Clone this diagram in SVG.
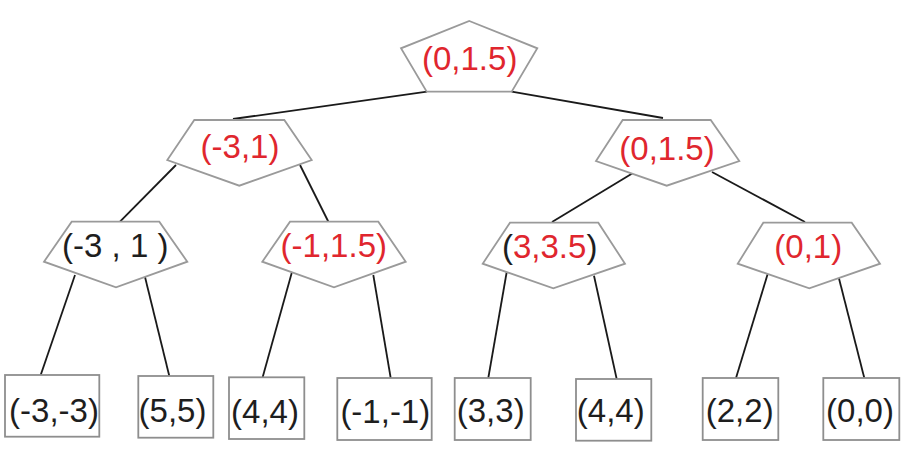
<svg xmlns="http://www.w3.org/2000/svg" width="912" height="454" viewBox="0 0 912 454">
<style>
.pent{fill:#fff;stroke:#9a9a9a;stroke-width:1.8}
.box{fill:#fff;stroke:#8e8e8e;stroke-width:1.8}
.edge{stroke:#1a1a1a;stroke-width:1.8;fill:none}
text{font-family:"Liberation Sans",Arial,sans-serif;font-size:33px;text-anchor:middle}
.r{fill:#e0262e}
.k{fill:#1e1e1e}
</style>
<rect width="912" height="454" fill="#fff"/>
<g id="connectors">
<line class="edge" x1="427" y1="91.7" x2="233" y2="119"/>
<line class="edge" x1="511.7" y1="91.7" x2="663" y2="118"/>
<line class="edge" x1="176" y1="165" x2="119" y2="222.7"/>
<line class="edge" x1="300" y1="165" x2="329" y2="223"/>
<line class="edge" x1="633" y1="173" x2="552" y2="222"/>
<line class="edge" x1="712" y1="172" x2="805" y2="222"/>
<line class="edge" x1="75" y1="275" x2="40.7" y2="375"/>
<line class="edge" x1="145" y1="277" x2="169.3" y2="376"/>
<line class="edge" x1="291.7" y1="273" x2="262.7" y2="377"/>
<line class="edge" x1="373.3" y1="275" x2="390.7" y2="378"/>
<line class="edge" x1="506.7" y1="272" x2="488.3" y2="378"/>
<line class="edge" x1="594" y1="275.7" x2="616.7" y2="379"/>
<line class="edge" x1="768.3" y1="272" x2="736" y2="378"/>
<line class="edge" x1="838.3" y1="275.7" x2="864.3" y2="378"/>
</g>
<g id="n-root">
<polygon class="pent" points="469.3,21 537.3,48.3 511.7,91.7 426.7,91.7 401,48.3"/>
<text class="r" x="469.7" y="69.5">(0,1.5)</text>
</g>
<g id="n-L">
<polygon class="pent" points="194.3,120 284.3,120 311.7,160 239.3,185.7 167.3,160"/>
<text class="r" x="240" y="157.5">(-3,1)</text>
</g>
<g id="n-R">
<polygon class="pent" points="622.7,120 710.7,120 739.3,161 666.7,185.7 596,161"/>
<text class="r" x="667" y="159.5">(0,1.5)</text>
</g>
<g id="n-LL">
<polygon class="pent" points="71.7,221.7 159.3,221.7 187.3,261.7 116,287.3 44,261.7"/>
<text class="k" x="115.3" y="256.5">(-3 , 1 )</text>
</g>
<g id="n-LR">
<polygon class="pent" points="290,221.7 378.3,221.7 405.7,261.7 334,287.3 262.3,261.7"/>
<text class="r" x="333.8" y="256.5">(-1,1.5)</text>
</g>
<g id="n-RL">
<polygon class="pent" points="510,222.7 598.3,222.7 625,263.7 553.3,288.3 482.7,263.7"/>
<text x="549.7" y="257.5"><tspan class="k">(</tspan><tspan class="r">3,3.5</tspan><tspan class="k">)</tspan></text>
</g>
<g id="n-RR">
<polygon class="pent" points="763.3,222.7 851.7,222.7 880,263.7 809.3,288.3 737.7,263.7"/>
<text class="r" x="808.3" y="257.5">(0,1)</text>
</g>
<g id="leaf1"><rect class="box" x="5" y="375" width="94.3" height="61.7"/><text class="k" x="54" y="421.5">(-3,-3)</text></g>
<g id="leaf2"><rect class="box" x="138.3" y="376" width="75" height="61.7"/><text class="k" x="172.5" y="421.5">(5,5)</text></g>
<g id="leaf3"><rect class="box" x="229" y="377.3" width="75.3" height="61.7"/><text class="k" x="265" y="422.5">(4,4)</text></g>
<g id="leaf4"><rect class="box" x="337.3" y="378" width="94.4" height="62"/><text class="k" x="385.3" y="422.5">(-1,-1)</text></g>
<g id="leaf5"><rect class="box" x="454.7" y="378" width="76" height="62"/><text class="k" x="490.7" y="421.5">(3,3)</text></g>
<g id="leaf6"><rect class="box" x="576" y="379" width="75.3" height="61.7"/><text class="k" x="610.8" y="421.5">(4,4)</text></g>
<g id="leaf7"><rect class="box" x="702.7" y="378" width="75.6" height="62"/><text class="k" x="739.7" y="421.5">(2,2)</text></g>
<g id="leaf8"><rect class="box" x="823.3" y="378" width="76" height="62"/><text class="k" x="860" y="421.5">(0,0)</text></g>
</svg>
